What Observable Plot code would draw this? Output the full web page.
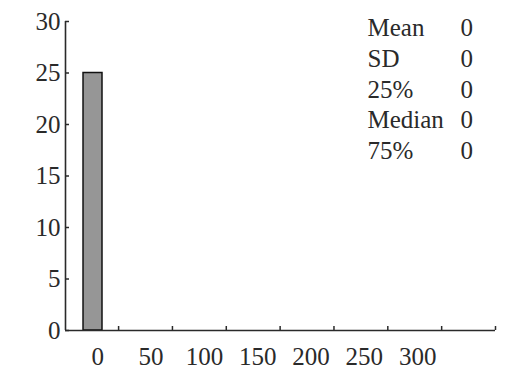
<!DOCTYPE html>
<html>
<head>
<meta charset="utf-8">
<script src="https://cdn.jsdelivr.net/npm/d3@7"></script>
<script src="https://cdn.jsdelivr.net/npm/@observablehq/plot@0.6"></script>
<style>
  html, body { margin: 0; padding: 0; background: #fff; }
</style>
</head>
<body>
<div id="chart"></div>
<script>
// Histogram bins (x range) and counts
const binStart = [-13.4];
const binEnd = [4.4];
const counts = [25];

// Axis ticks / labels
const xLabelValues = [0, 50, 100, 150, 200, 250, 300];
const xTickValues = [19.5, 70, 120.5, 171, 221.5, 272, 322.5, 373];
const yTickValues = [0, 5, 10, 15, 20, 25, 30];

// Summary statistics box
const statNames = ["Mean", "SD", "25%", "Median", "75%"];
const statValues = [0, 0, 0, 0, 0];

const bins = binStart.map((s, i) => ({x1: s, x2: binEnd[i], count: counts[i]}));
const stats = statNames.map((n, i) => ({name: n, value: statValues[i]}));

const ink = "#2a2a2a";
const FONT = "Liberation Serif";
const FS = 25;
const xMin = -30.3, xMax = 373;

const statMarks = stats.flatMap((d, i) => [
  Plot.text([d], {text: "name", frameAnchor: "top-left", dx: 302, dy: 6.5 + i * 30.8,
    textAnchor: "start", lineAnchor: "middle", fill: ink, fontFamily: FONT, fontSize: FS}),
  Plot.text([d], {text: d => String(d.value), frameAnchor: "top-left", dx: 395, dy: 6.5 + i * 30.8,
    textAnchor: "start", lineAnchor: "middle", fill: ink, fontFamily: FONT, fontSize: FS})
]);

const chart = Plot.plot({
  width: 508,
  height: 369,
  marginLeft: 65,
  marginRight: 13,
  marginTop: 21,
  marginBottom: 39,
  style: {background: "#fff", color: ink, fontFamily: FONT, fontSize: FS + "px"},
  x: {domain: [xMin, xMax]},
  y: {domain: [0, 30]},
  marks: [
    Plot.rectY(bins, {x1: "x1", x2: "x2", y: "count", fill: "#969696", stroke: "#111", strokeWidth: 1.5}),
    // axis lines
    Plot.ruleX([xMin], {stroke: ink, strokeWidth: 1.6}),
    Plot.ruleY([0], {stroke: ink, strokeWidth: 1.6}),
    // x tick marks (inward) and labels
    Plot.ruleX(xTickValues, {x: d => d, y1: 0, y2: 0, insetTop: -4, stroke: ink, strokeWidth: 1.5}),
    Plot.axisX({ticks: xLabelValues, tickSize: 0, tickPadding: 17, label: null, fill: ink,
      fontFamily: FONT, fontSize: FS, tickFormat: d => String(d)}),
    // y tick marks (inward) and labels
    Plot.ruleY(yTickValues, {y: d => d, x1: xMin, x2: xMin, insetRight: -4, stroke: ink, strokeWidth: 1.5}),
    Plot.axisY({ticks: yTickValues, tickSize: 0, tickPadding: 5, label: null, fill: ink,
      fontFamily: FONT, fontSize: FS, tickFormat: d => String(d)}),
    ...statMarks
  ]
});

document.getElementById("chart").appendChild(chart);
</script>
</body>
</html>
